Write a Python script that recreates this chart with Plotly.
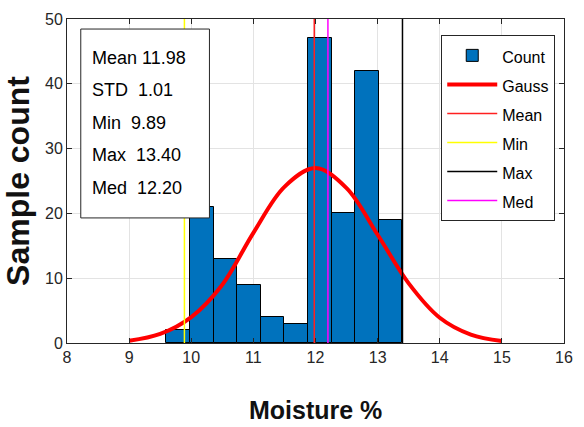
import plotly.graph_objects as go

# ---- data ----
bin_edges = [9.60, 9.98, 10.36, 10.74, 11.12, 11.50, 11.88, 12.26, 12.64, 13.02, 13.40]
counts = [2, 21, 13, 9, 4, 3, 47, 20, 42, 19]

gauss_x = [9.0, 9.5, 10.0, 10.5, 11.0, 11.5, 12.0, 12.5, 13.0, 13.5, 14.0, 14.5, 15.0]
gauss_y = [0.35, 1.4, 4.0, 9.0, 17.0, 24.1, 27.0, 23.9, 16.7, 9.2, 3.9, 1.3, 0.3]

stat_names = ["Mean", "STD", "Min", "Max", "Med"]
stat_values = [11.98, 1.01, 9.89, 13.40, 12.20]

vline_names = ["Mean", "Min", "Max", "Med"]
vline_values = [11.98, 9.89, 13.40, 12.20]
vline_colors = ["#ff2020", "#ffff00", "#000000", "#ff00ff"]

x_ticks = [8, 9, 10, 11, 12, 13, 14, 15, 16]
y_ticks = [0, 10, 20, 30, 40, 50]

x_title = "Moisture %"
y_title = "Sample count"

FONT = "Liberation Sans, Arial, sans-serif"
txt = "#262626"


def leg(name):
    return f'<span style="font-size:16px">{name}</span>'


centers = [(a + b) / 2 for a, b in zip(bin_edges[:-1], bin_edges[1:])]
widths = [b - a for a, b in zip(bin_edges[:-1], bin_edges[1:])]

fig = go.Figure()
fig.add_trace(go.Bar(x=centers, y=counts, width=widths, name=leg("Count"),
                     marker=dict(color="#0072BD", line=dict(color="#000000", width=1))))
fig.add_trace(go.Scatter(x=gauss_x, y=gauss_y, mode="lines", name=leg("Gauss"),
                         line=dict(color="#ff0000", width=4, shape="spline")))
for n, v, c in zip(vline_names, vline_values, vline_colors):
    fig.add_trace(go.Scatter(x=[v, v], y=[y_ticks[0], y_ticks[-1]], mode="lines", name=leg(n),
                             line=dict(color=c, width=1.5)))

# stats box
fig.add_shape(type="rect", xref="paper", yref="paper", x0=0.0277, x1=0.2866, y0=0.386, y1=0.969,
              line=dict(color="#262626", width=1), fillcolor="white", layer="above")
line_ys = [0.880, 0.781, 0.679, 0.580, 0.478]
for n, v, yy in zip(stat_names, stat_values, line_ys):
    fig.add_annotation(xref="paper", yref="paper", x=0.0455, y=yy, xanchor="left", yanchor="middle",
                       text=f"{n}  {v:.2f}" if n != "Mean" else f"{n} {v:.2f}", showarrow=False,
                       font=dict(family=FONT, size=18, color="#000000"))

# x-axis title
fig.add_annotation(xref="paper", yref="paper", x=0.5, y=-0.207, xanchor="center", yanchor="middle",
                   text=f"<b>{x_title}</b>", showarrow=False,
                   font=dict(family=FONT, size=25, color="#111111"))

axis_common = dict(showgrid=True, gridcolor="#e3e3e3", gridwidth=1, zeroline=False,
                   showline=True, linecolor="#262626", linewidth=1, mirror="ticks",
                   ticks="inside", ticklen=5, tickcolor="#262626",
                   tickfont=dict(family=FONT, size=16, color=txt))

fig.update_layout(
    width=584, height=427,
    margin=dict(l=67, r=11, t=19, b=84),
    paper_bgcolor="white", plot_bgcolor="white",
    bargap=0,
    xaxis=dict(range=[8, 16], tickvals=x_ticks, **axis_common),
    yaxis=dict(range=[0, 50], tickvals=y_ticks, **axis_common,
               title=dict(text=f"<b>{y_title}</b>", standoff=8,
                          font=dict(family=FONT, size=32, color="#111111"))),
    legend=dict(x=0.753, y=0.951, xanchor="left", yanchor="top",
                bgcolor="white", bordercolor="#262626", borderwidth=1,
                font=dict(family=FONT, size=20, color="#000000"),
                itemwidth=50, tracegroupgap=0),
    showlegend=True,
)

fig.write_html("out.html")
